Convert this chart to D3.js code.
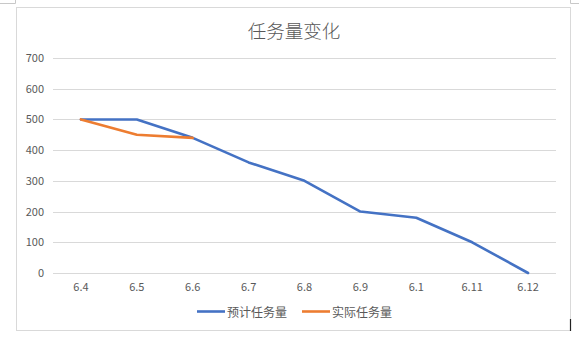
<!DOCTYPE html>
<html><head><meta charset="utf-8">
<script src="https://cdn.jsdelivr.net/npm/d3@7"></script>
<style>body{margin:0;background:#fff;}svg{display:block;}</style>
</head><body>
<svg id="c" width="579" height="351"></svg>
<script>
const categories = ["6.4","6.5","6.6","6.7","6.8","6.9","6.1","6.11","6.12"];
const planned = [500,500,440,360,300,200,180,100,0];
const actual = [500,450,440];
const yTicks = [0,100,200,300,400,500,600,700];
const title = "任务量变化";
const seriesNames = ["预计任务量","实际任务量"];
const colors = ["#4472C4","#ED7D31"];

const svg = d3.select("#c");
const font = "'Noto Sans CJK SC','DejaVu Sans',sans-serif";
svg.append("path").attr("d","M0,3.5H15.5V0").attr("fill","none").attr("stroke","#c8c8c8");
svg.append("path").attr("d","M579,3.5H570.5V0").attr("fill","none").attr("stroke","#c8c8c8");
svg.append("rect").attr("x",16.5).attr("y",7.5).attr("width",554).attr("height",323)
  .attr("fill","#fff").attr("stroke","#d9d9d9");
svg.append("line").attr("x1",570.5).attr("x2",570.5).attr("y1",319).attr("y2",331).attr("stroke","#222").attr("stroke-width",1.2);

const x = d3.scaleBand().domain(categories).range([53,556]);
const y = d3.scaleLinear().domain([0,700]).range([273,58]);

const g = svg.append("g");
g.selectAll("line.grid").data(yTicks).join("line")
  .attr("x1",53).attr("x2",556)
  .attr("y1",d=>Math.round(y(d))+0.5).attr("y2",d=>Math.round(y(d))+0.5)
  .attr("stroke","#d9d9d9").attr("stroke-width",1);

g.selectAll("text.yt").data(yTicks).join("text")
  .attr("x",44).attr("y",d=>y(d)+4).attr("text-anchor","end")
  .attr("font-family",font).attr("font-size",11).attr("fill","#595959").text(d=>d);

g.selectAll("text.xt").data(categories).join("text")
  .attr("x",d=>x(d)+x.bandwidth()/2).attr("y",291).attr("text-anchor","middle")
  .attr("font-family",font).attr("font-size",11).attr("fill","#595959").text(d=>d);

const line = d3.line().x((d,i)=>x(categories[i])+x.bandwidth()/2).y(d=>y(d));
svg.append("path").datum(planned).attr("d",line).attr("fill","none")
  .attr("stroke",colors[0]).attr("stroke-width",2.6).attr("stroke-linejoin","round").attr("stroke-linecap","round");
svg.append("path").datum(actual).attr("d",line).attr("fill","none")
  .attr("stroke",colors[1]).attr("stroke-width",2.6).attr("stroke-linejoin","round").attr("stroke-linecap","round");

svg.append("text").attr("x",294).attr("y",38).attr("text-anchor","middle")
  .attr("font-family",font).attr("font-weight",300).attr("font-size",18.5).attr("fill","#595959").text(title);

const legX = [197,302];
seriesNames.forEach((n,i)=>{
  svg.append("line").attr("x1",legX[i]).attr("x2",legX[i]+28).attr("y1",311.5).attr("y2",311.5)
    .attr("stroke",colors[i]).attr("stroke-width",2.6);
  svg.append("text").attr("x",legX[i]+30).attr("y",316.5).attr("font-family",font)
    .attr("font-size",12).attr("fill","#595959").text(n);
});
</script>
</body></html>
